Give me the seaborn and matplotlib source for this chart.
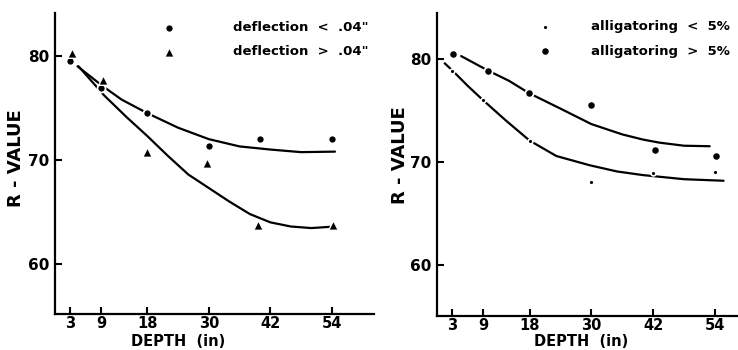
import matplotlib
matplotlib.use("Agg")
import matplotlib.pyplot as plt
import seaborn as sns

sns.set_style("ticks")
plt.rcParams["font.family"] = ["DejaVu Sans"]
plt.rcParams["font.weight"] = "bold"
plt.rcParams["text.color"] = "black"
plt.rcParams["axes.labelcolor"] = "black"

# ---- shared axis settings ----
depth_ticks = [3, 9, 18, 30, 42, 54]
r_ticks = [60, 70, 80]

# ---- left panel: deflection ----
defl_lt_depth = [3, 9, 18, 30, 40, 54]
defl_lt_r = [79.5, 76.9, 74.5, 71.3, 72.0, 72.0]
defl_gt_depth = [3.4, 9.3, 17.9, 29.7, 39.6, 54.3]
defl_gt_r = [80.3, 77.7, 70.8, 69.7, 63.7, 63.7]

# hand-fitted trend curves
defl_lt_curve_x = [4.4, 9.3, 13, 18, 24, 30, 36, 42, 48, 54.6]
defl_lt_curve_r = [79.0, 77.1, 75.8, 74.5, 73.1, 72.0, 71.3, 71.0, 70.75, 70.8]
defl_gt_curve_x = [4.6, 9.6, 14, 18, 22, 26, 30, 34, 38, 42, 46, 50, 54.5]
defl_gt_curve_r = [79.0, 76.2, 74.1, 72.3, 70.4, 68.6, 67.3, 66.0, 64.8, 64.0, 63.6, 63.45, 63.6]

# ---- right panel: alligatoring ----
allig_lt_depth = [3, 9, 18, 30, 42, 54]
allig_lt_r = [78.9, 76.0, 72.1, 68.1, 69.0, 69.05]
allig_gt_depth = [3.2, 9.9, 17.9, 30.0, 42.4, 54.2]
allig_gt_r = [80.5, 78.9, 76.7, 75.6, 71.2, 70.65]

allig_lt_curve_x = [1.5, 3, 6, 9, 13.5, 18, 23.2, 29.7, 35, 40, 43, 48, 55.7]
allig_lt_curve_r = [79.6, 78.9, 77.4, 76.0, 74.0, 72.1, 70.6, 69.7, 69.1, 68.75, 68.6, 68.35, 68.2]
allig_gt_curve_x = [4.7, 9.9, 14, 17.9, 24, 30, 36, 40, 43.2, 48, 53]
allig_gt_curve_r = [80.3, 78.9, 77.9, 76.7, 75.2, 73.7, 72.7, 72.2, 71.9, 71.6, 71.55]

fig = plt.figure(figsize=(7.38, 3.5), dpi=100)
ax1 = fig.add_axes([0.0745, 0.1029, 0.4322, 0.86])
ax2 = fig.add_axes([0.5921, 0.0971, 0.4079, 0.8657])

line_kw = dict(color="black", linewidth=1.6, sort=False, estimator=None)

# left panel
sns.lineplot(x=defl_lt_curve_x, y=defl_lt_curve_r, ax=ax1, **line_kw)
sns.lineplot(x=defl_gt_curve_x, y=defl_gt_curve_r, ax=ax1, **line_kw)
sns.scatterplot(x=defl_lt_depth, y=defl_lt_r, ax=ax1, marker="o", s=34,
                color="black", edgecolor="white", linewidth=1.3,
                label='deflection  <  .04"', zorder=3)
sns.scatterplot(x=defl_gt_depth, y=defl_gt_r, ax=ax1, marker="^", s=48,
                color="black", edgecolor="white", linewidth=1.0,
                label='deflection  >  .04"', zorder=3)

# right panel
sns.lineplot(x=allig_lt_curve_x, y=allig_lt_curve_r, ax=ax2, **line_kw)
sns.lineplot(x=allig_gt_curve_x, y=allig_gt_curve_r, ax=ax2, **line_kw)
sns.scatterplot(x=allig_lt_depth, y=allig_lt_r, ax=ax2, marker="o", s=12,
                color="black", edgecolor="white", linewidth=1.2,
                label="alligatoring  <  5%", zorder=3)
sns.scatterplot(x=allig_gt_depth, y=allig_gt_r, ax=ax2, marker="o", s=36,
                color="black", edgecolor="white", linewidth=1.3,
                label="alligatoring  >  5%", zorder=3)

for ax, xmax, ylim in ((ax1, 62.2, (55.19, 84.13)), (ax2, 58.5, (55.07, 84.48))):
    ax.set_xlim(0, xmax)
    ax.set_ylim(*ylim)
    ax.set_xticks(depth_ticks)
    ax.set_yticks(r_ticks)
    sns.despine(ax=ax)
    for side in ("left", "bottom"):
        ax.spines[side].set_linewidth(1.6)
        ax.spines[side].set_color("black")
    ax.tick_params(axis="both", direction="in", length=5, width=1.5,
                   colors="black")
    ax.tick_params(axis="y", pad=4, labelsize=11)
    ax.tick_params(axis="x", pad=1.5, labelsize=10.5)
    for lab in ax.get_xticklabels() + ax.get_yticklabels():
        lab.set_fontweight("bold")
    ax.set_xlabel("DEPTH  (in)", fontsize=10.5, fontweight="bold", color="black")
    ax.set_ylabel("R - VALUE", fontsize=13, fontweight="bold", color="black")

ax1.xaxis.set_label_coords(0.385, -0.066)
ax2.xaxis.set_label_coords(0.478, -0.059)
ax1.yaxis.set_label_coords(-0.094, 0.518)
ax2.yaxis.set_label_coords(-0.092, 0.53)

ax1.legend(loc="upper right", bbox_to_anchor=(1.0, 0.99), frameon=False,
           fontsize=9.5, handlelength=1.0, handletextpad=4.4,
           labelspacing=0.85, borderaxespad=0.0, labelcolor="black")
ax2.legend(loc="upper right", bbox_to_anchor=(0.99, 0.993), frameon=False,
           fontsize=9.5, handlelength=1.0, handletextpad=3.0,
           labelspacing=0.85, borderaxespad=0.0, labelcolor="black")

fig.savefig("out.png", dpi=100)
